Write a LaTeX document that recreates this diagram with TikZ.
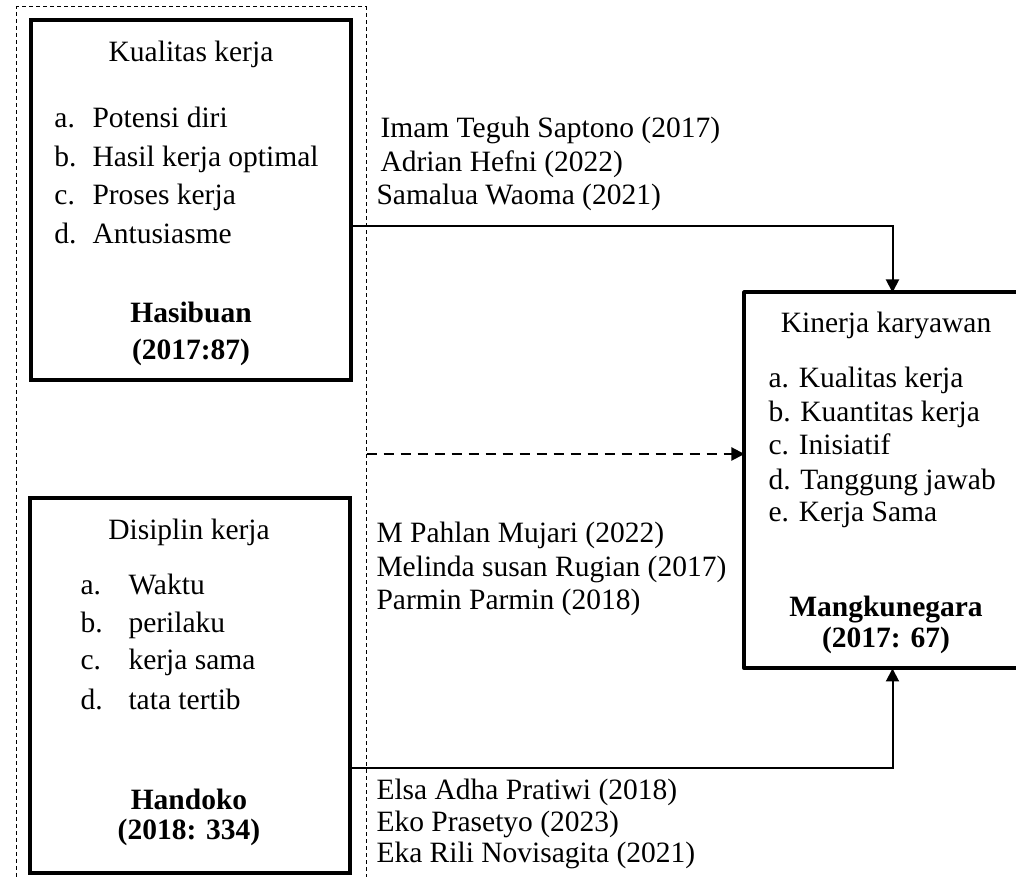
\documentclass[tikz,border=0pt]{standalone}
\usepackage{fontspec}
\setmainfont{Liberation Serif}
\usetikzlibrary{arrows.meta}
\begin{document}
\begin{tikzpicture}[x=0.4pt,y=-0.4pt,
  box/.style={draw, line width=1.6pt, inner sep=0pt},
  framebox/.style={draw, line width=0.4pt, dash pattern=on 1.6pt off 1.2pt, inner sep=0pt},
  arr/.style={line width=0.8pt, -{Triangle[length=5.2pt,width=5.2pt]}},
  dasharr/.style={arr, dash pattern=on 4pt off 2.8pt},
  txt/.style={inner sep=0pt, anchor=base west, font=\fontsize{11.8}{14}\selectfont},
  ctr/.style={inner sep=0pt, anchor=base, font=\fontsize{11.8}{14}\selectfont},
  bctr/.style={ctr, font=\fontsize{11.8}{14}\selectfont\bfseries}]
\useasboundingbox (0,0) rectangle (1016,877);
\clip (0,0) rectangle (1016,877);
\fill[white] (0,0) rectangle (1016,877);
% frames and boxes
\node[framebox, minimum width=139.6pt, minimum height=357.2pt] (frame) at (191.5,453.5) {};
\node[box, minimum width=128pt, minimum height=144pt] (kual) at (191,200) {};
\node[box, minimum width=128pt, minimum height=150pt] (dis) at (190,685.5) {};
\node[inner sep=0pt, minimum width=118pt, minimum height=150pt] (kin) at (892.5,480.5) {};
\draw[line width=1.6pt, line join=round] (kin.north east) -- (kin.north west) -- (kin.south west) -- (kin.south east);
% Kualitas kerja box text
\node[ctr] (k0) at (191,62) {Kualitas kerja};
\node[txt] (ka) at (54,128) {a.};  \node[txt] (kat) at (92,128) {Potensi diri};
\node[txt] (kb) at (54,167) {b.};  \node[txt] (kbt) at (92,167) {Hasil kerja optimal};
\node[txt] (kc) at (54,205) {c.};  \node[txt] (kct) at (92,205) {Proses kerja};
\node[txt] (kd) at (54,244) {d.};  \node[txt] (kdt) at (92,244) {Antusiasme};
\node[bctr] (k1) at (191,323) {Hasibuan};
\node[bctr] (k2) at (191,360) {(2017:87)};
% Disiplin kerja box text
\node[ctr] (d0) at (189,540) {Disiplin kerja};
\node[txt] (da) at (80,595) {a.};  \node[txt] (dat) at (128,595) {Waktu};
\node[txt] (db) at (80,633) {b.};  \node[txt] (dbt) at (128,633) {perilaku};
\node[txt] (dc) at (80,670) {c.};  \node[txt] (dct) at (128,670) {kerja sama};
\node[txt] (dd) at (80,710) {d.};  \node[txt] (ddt) at (128,710) {tata tertib};
\node[bctr] (d1) at (189,810) {Handoko};
\node[bctr] (d2) at (189,840) {(2018: 334)};
% Kinerja box text
\node[ctr] (n0) at (886,333) {Kinerja karyawan};
\node[txt] (na) at (768,388) {a. Kualitas kerja};
\node[txt] (nb) at (768,422) {b. Kuantitas kerja};
\node[txt] (nc) at (768,455) {c. Inisiatif};
\node[txt] (nd) at (768,490) {d. Tanggung jawab};
\node[txt] (ne) at (768,522) {e. Kerja Sama};
\node[bctr] (n1) at (886,617) {Mangkunegara};
\node[bctr] (n2) at (886,648) {(2017: 67)};
% citations
\node[txt] (c1) at (380,138) {Imam Teguh Saptono (2017)};
\node[txt] (c2) at (380,172) {Adrian Hefni (2022)};
\node[txt] (c3) at (376,205) {Samalua Waoma (2021)};
\node[txt] (c4) at (376,543) {M Pahlan Mujari (2022)};
\node[txt] (c5) at (376,577) {Melinda susan Rugian (2017)};
\node[txt] (c6) at (376,610) {Parmin Parmin (2018)};
\node[txt] (c7) at (376,800) {Elsa Adha Pratiwi (2018)};
\node[txt] (c8) at (376,832) {Eko Prasetyo (2023)};
\node[txt] (c9) at (376,863) {Eka Rili Novisagita (2021)};
% connectors
\draw[arr] (kual.east |- 0,226) -| (kin.north);
\draw[arr] (dis.east |- 0,768) -| (kin.south);
\draw[dasharr] (frame.east |- 0,454) -- (kin.west |- 0,454);
\end{tikzpicture}
\end{document}
